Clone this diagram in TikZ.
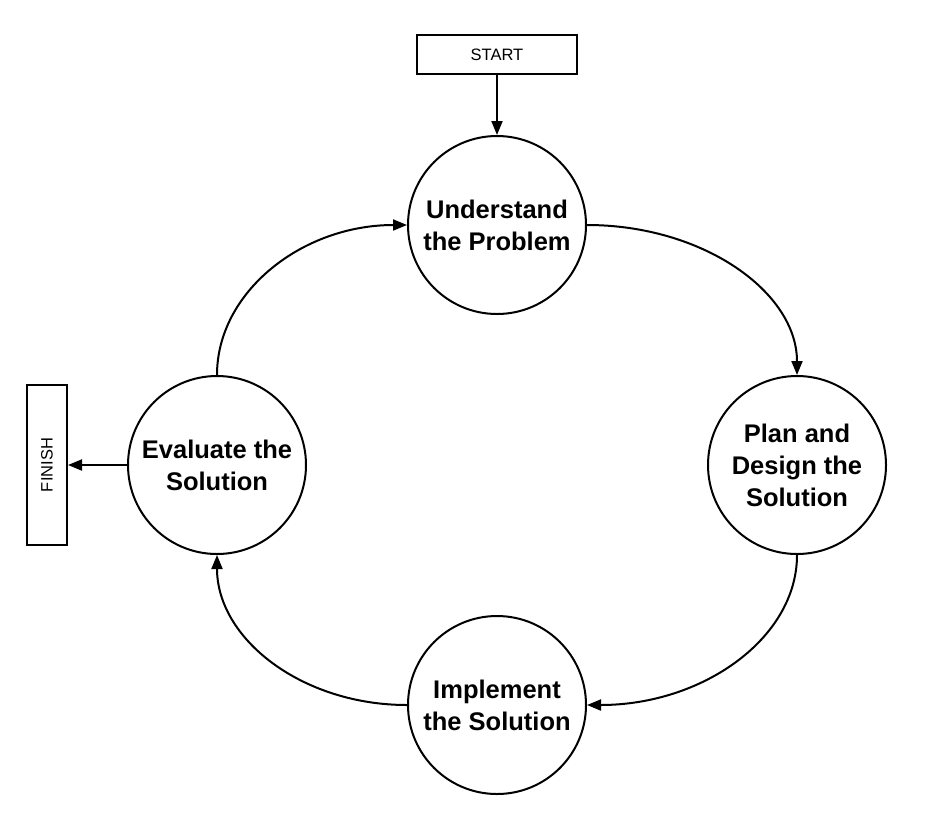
\documentclass[tikz,border=0pt]{standalone}
\usepackage{fontspec}
\setmainfont{Liberation Sans}
\usetikzlibrary{arrows.meta}
\begin{document}
\begin{tikzpicture}[x=1pt,y=-1pt,
  stage/.style={circle,draw,line width=2pt,minimum size=178pt,inner sep=0pt,align=center,
    font=\fontsize{25.5}{32}\selectfont\bfseries},
  termbox/.style={draw,line width=2pt,inner sep=0pt,font=\fontsize{16.5}{18}\selectfont},
  conn/.style={line width=2pt,-{Triangle[length=14pt,width=11pt]}}]
\useasboundingbox (0,0) rectangle (925,828);
\node[termbox,minimum width=160pt,minimum height=39pt] (start) at (497,54.5) {START};
\node[termbox,minimum width=40pt,minimum height=160pt] (finish) at (47,465) {};
\node[rotate=90,font=\fontsize{16.5}{18}\selectfont] (finishtext) at (finish.center) {FINISH};
\node[stage] (und) at (497,225) {Understand\\the Problem};
\node[stage] (plan) at (797,465) {Plan and\\Design the\\Solution};
\node[stage] (impl) at (497,705) {Implement\\the Solution};
\node[stage] (eval) at (217,465) {Evaluate the\\Solution};
\draw[conn] (start.south) -- (und.north);
\draw[conn] (eval.west) -- (finish.east);
\draw[conn] (und.east) .. controls +(116,0) and +(0,-83) .. (plan.north);
\draw[conn] (plan.south) .. controls +(0,83) and +(116,0) .. (impl.east);
\draw[conn] (impl.west) .. controls +(-105,0) and +(0,84) .. (eval.south);
\draw[conn] (eval.north) .. controls +(0,-83) and +(-105,0) .. (und.west);
\end{tikzpicture}
\end{document}
